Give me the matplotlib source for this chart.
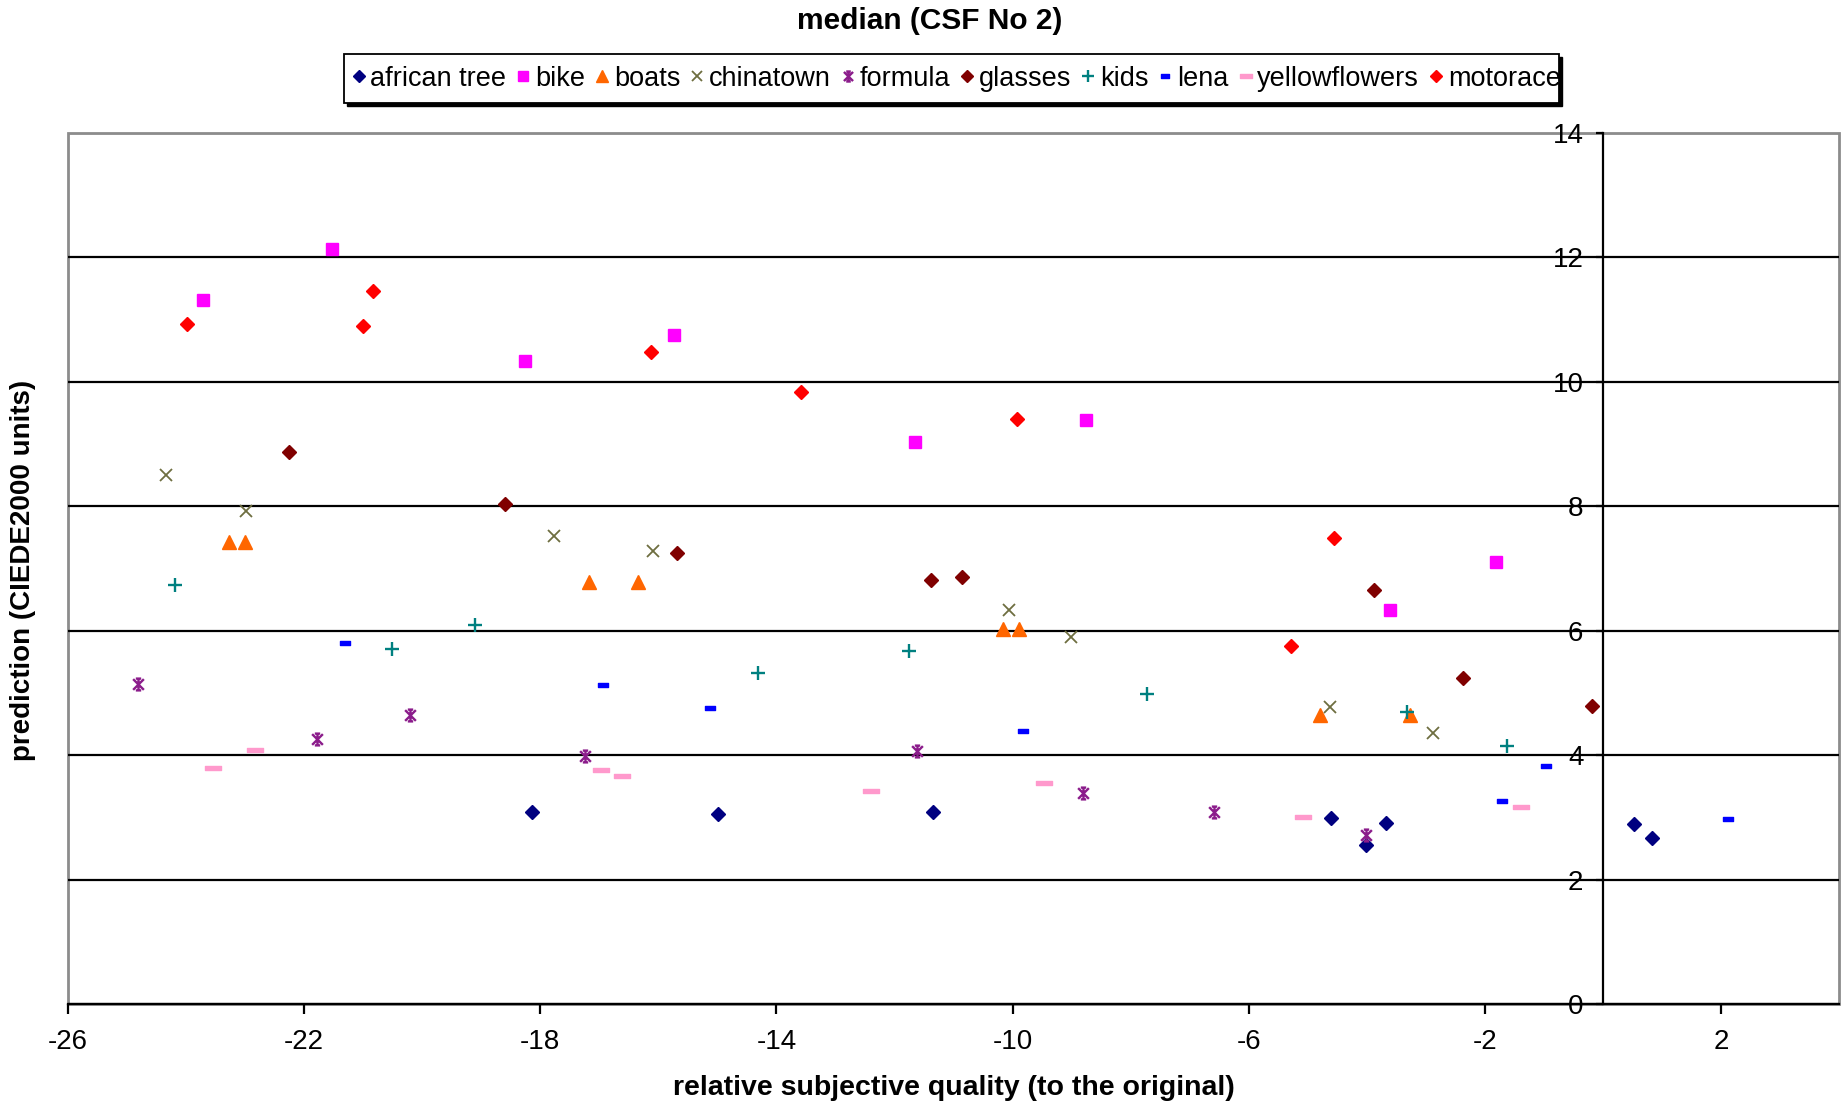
import numpy as np
import matplotlib
matplotlib.use("Agg")
import matplotlib.pyplot as plt
from matplotlib.path import Path
from matplotlib.patches import Rectangle

plt.rcParams['font.family'] = ['Liberation Sans', 'DejaVu Sans']

title = "median (CSF No 2)"
xlabel = "relative subjective quality (to the original)"
ylabel = "prediction (CIEDE2000 units)"
xticks = [-26, -22, -18, -14, -10, -6, -2, 2]
yticks = [0, 2, 4, 6, 8, 10, 12, 14]

series_names = ["african tree", "bike", "boats", "chinatown", "formula",
                "glasses", "kids", "lena", "yellowflowers", "motorace"]

african_x = [-18.14, -14.99, -11.34, -4.60, -4.02, -3.68, 0.53, 0.83]
african_y = [3.08, 3.05, 3.08, 2.99, 2.55, 2.91, 2.89, 2.67]
bike_x = [-23.71, -21.53, -18.26, -15.73, -11.66, -8.75, -1.81, -3.60]
bike_y = [11.31, 12.13, 10.33, 10.76, 9.04, 9.38, 7.11, 6.34]
boats_x = [-23.27, -23.01, -17.18, -16.35, -10.16, -9.89, -4.80, -3.26]
boats_y = [7.43, 7.43, 6.79, 6.79, 6.02, 6.02, 4.65, 4.65]
chinatown_x = [-24.34, -22.99, -17.76, -16.09, -10.06, -9.01, -4.62, -2.88]
chinatown_y = [8.51, 7.93, 7.53, 7.28, 6.34, 5.90, 4.77, 4.35]
formula_x = [-24.82, -21.79, -20.20, -17.24, -11.62, -8.81, -6.59, -4.02]
formula_y = [5.15, 4.26, 4.65, 3.99, 4.07, 3.39, 3.08, 2.71]
glasses_x = [-22.25, -18.60, -15.69, -11.38, -10.86, -3.88, -2.37, -0.19]
glasses_y = [8.87, 8.04, 7.25, 6.81, 6.87, 6.66, 5.24, 4.79]
kids_x = [-24.19, -20.52, -19.10, -14.31, -11.76, -7.73, -3.32, -1.63]
kids_y = [6.73, 5.71, 6.09, 5.32, 5.68, 4.99, 4.69, 4.14]
lena_x = [-21.31, -16.93, -15.13, -9.83, -1.71, -0.97, 2.12]
lena_y = [5.81, 5.13, 4.75, 4.39, 3.27, 3.82, 2.97]
yellow_x = [-23.55, -22.83, -16.97, -16.61, -12.40, -9.47, -5.08, -1.39]
yellow_y = [3.80, 4.09, 3.76, 3.67, 3.42, 3.56, 3.01, 3.16]
motorace_x = [-23.99, -21.01, -20.83, -16.13, -13.59, -9.93, -4.56, -5.28]
motorace_y = [10.93, 10.90, 11.46, 10.48, 9.84, 9.40, 7.49, 5.75]

xs = [african_x, bike_x, boats_x, chinatown_x, formula_x,
      glasses_x, kids_x, lena_x, yellow_x, motorace_x]
ys = [african_y, bike_y, boats_y, chinatown_y, formula_y,
      glasses_y, kids_y, lena_y, yellow_y, motorace_y]

# custom markers
asterisk = Path([(-1, -1), (1, 1), (-1, 1), (1, -1), (0, -1.1), (0, 1.1),
                 (-0.5, -1.1), (0.5, -1.1), (-0.5, 1.1), (0.5, 1.1)],
                [Path.MOVETO, Path.LINETO, Path.MOVETO, Path.LINETO,
                 Path.MOVETO, Path.LINETO, Path.MOVETO, Path.LINETO,
                 Path.MOVETO, Path.LINETO])
dash = Path([(-1, -0.4), (1, -0.4), (1, 0.4), (-1, 0.4), (-1, -0.4)],
            [Path.MOVETO, Path.LINETO, Path.LINETO, Path.LINETO, Path.CLOSEPOLY])
wdash = Path([(-1, -0.3), (1, -0.3), (1, 0.3), (-1, 0.3), (-1, -0.3)],
             [Path.MOVETO, Path.LINETO, Path.LINETO, Path.LINETO, Path.CLOSEPOLY])

styles = [
    dict(marker='D', color='#000080', ms=7.5),
    dict(marker='s', color='#FF00FF', ms=8.5),
    dict(marker='^', color='#FF6600', ms=10),
    dict(marker='x', color='#6E6E40', ms=8, mew=1.3),
    dict(marker=asterisk, color='#8B1C8B', ms=8.5, mew=1.7),
    dict(marker='D', color='#800000', ms=7),
    dict(marker='+', color='#008080', ms=9.5, mew=1.7),
    dict(marker=dash, color='#0000FF', ms=7),
    dict(marker=wdash, color='#FF99CC', ms=11),
    dict(marker='D', color='#FF0000', ms=7.5),
]

W, H = 1845, 1105
fig = plt.figure(figsize=(W / 100, H / 100), dpi=100)
ax = fig.add_axes([68 / W, 1 - 1004 / H, (1839 - 68) / W, (1004 - 133) / H])

handles = []
for name, x, y, st in zip(series_names, xs, ys, styles):
    h, = ax.plot(x, y, linestyle='none', marker=st['marker'], color=st['color'],
                 markersize=st['ms'], markeredgewidth=st.get('mew', 1.0),
                 label=name, zorder=3, clip_on=False)
    handles.append(h)

ax.set_xlim(-26, 4)
ax.set_ylim(0, 14)
ax.set_xticks(xticks)
ax.set_yticks(yticks)
ax.set_xticklabels([str(v) for v in xticks])
ax.set_yticklabels([str(v) for v in yticks])

ax.patch.set_edgecolor('#8C8C8C')
ax.patch.set_linewidth(2)
for s in ['top', 'right']:
    ax.spines[s].set_visible(False)
ax.spines['left'].set_position(('data', 0))
ax.spines['left'].set_color('black')
ax.spines['left'].set_linewidth(1.6)
ax.spines['bottom'].set_color('black')
ax.spines['bottom'].set_linewidth(1.6)

ax.yaxis.grid(True, color='black', linewidth=1.6)
ax.set_axisbelow(True)
gl = ax.get_ygridlines()
gl[-1].set_color('#8C8C8C')

ax.tick_params(axis='x', direction='out', length=7, width=1.6, labelsize=20,
               pad=11, colors='black')
ax.tick_params(axis='y', direction='out', length=5, width=1.6, labelsize=20,
               pad=9, colors='black')

ax.set_xlabel(xlabel, fontsize=20.5, fontweight='bold')
ax.set_ylabel(ylabel, fontsize=20, fontweight='bold')
ax.xaxis.set_label_coords(0.5 * (68 + 1839) / W, 1 - 1088 / H, transform=fig.transFigure)
ax.xaxis.label.set_va('center')
ax.yaxis.set_label_coords(23.5 / W, 1 - 570 / H, transform=fig.transFigure)
ax.yaxis.label.set_va('center')

fig.text(930 / W, 1 - 21 / H, title, ha='center', va='center',
         fontsize=21.5, fontweight='bold')

# legend box
bx0, bx1, by0, by1 = 344, 1559, 54, 103
frame = Rectangle((bx0 / W, 1 - by1 / H), (bx1 - bx0) / W, (by1 - by0) / H,
                  transform=fig.transFigure, facecolor='white', edgecolor='black',
                  linewidth=1.3, zorder=1)
shadow = Rectangle(((bx0 + 3) / W, 1 - (by1 + 3) / H), (bx1 - bx0) / W, (by1 - by0) / H,
                   transform=fig.transFigure, facecolor='black', edgecolor='black',
                   linewidth=1.0, zorder=0.9)
fig.patches.append(shadow)
fig.patches.append(frame)

leg = fig.legend(handles=handles, labels=series_names, ncol=10,
                 loc='center left', bbox_to_anchor=(352 / W, 1 - 78.5 / H),
                 frameon=False, fontsize=19.5, handlelength=0.5, handletextpad=0.18,
                 columnspacing=0.38, borderpad=0, borderaxespad=0, markerscale=0.85)
leg.set_zorder(2)
for t in leg.get_texts():
    t.set_clip_path(frame)
    t.set_clip_on(True)

fig.savefig("out.png", dpi=100)
